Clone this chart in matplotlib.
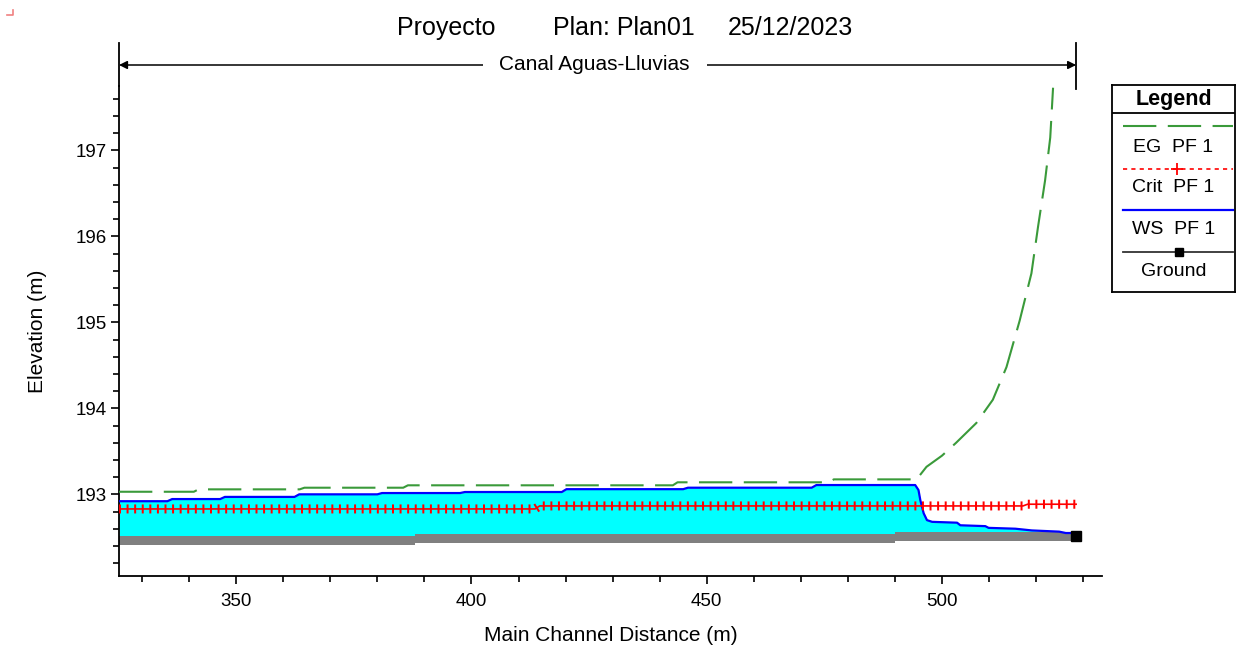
import matplotlib.pyplot as plt
import numpy as np
from matplotlib.ticker import MultipleLocator
import matplotlib.transforms as mtransforms

plt.rcParams['font.family'] = ['Liberation Sans', 'DejaVu Sans']

# HEC-RAS profile (station in m, elevation in m)
ground_x = [325.1, 388.0, 388.0, 490.0, 490.0, 528.5]
ground_z = [192.46, 192.46, 192.485, 192.485, 192.51, 192.51]

ws_x = [325.1, 335.4, 336.4, 346.6, 347.6, 362.4, 363.4, 380.0, 381.0, 397.6,
        398.6, 419.2, 420.2, 445.0, 446.0, 472.3, 473.3, 494.3, 495.0, 495.4,
        496.1, 496.8, 497.9, 503.2, 503.9, 509.2, 509.9, 515.6, 519.1, 524.9,
        526.3, 528.5]
ws_z = [192.92, 192.92, 192.945, 192.945, 192.97, 192.97, 193.0, 193.0, 193.015, 193.015,
        193.027, 193.027, 193.06, 193.06, 193.077, 193.077, 193.108, 193.108, 193.05, 192.93,
        192.78, 192.70, 192.68, 192.67, 192.64, 192.63, 192.61, 192.60, 192.58, 192.566,
        192.55, 192.55]

crit_x = [325.1, 413.5, 414.5, 517.2, 518.2, 528.5]
crit_z = [192.83, 192.83, 192.865, 192.865, 192.885, 192.885]

eg_x = [325.1, 341.0, 342.0, 363.5, 364.5, 385.5, 386.5, 442.8, 443.8, 476.0,
        477.0, 494.6, 496.7, 500.0, 503.0, 507.3, 510.8, 513.7, 516.5, 519.0,
        520.4, 521.9, 523.0, 523.6]
eg_z = [193.03, 193.03, 193.058, 193.058, 193.077, 193.077, 193.105, 193.105, 193.14, 193.14,
        193.174, 193.174, 193.32, 193.45, 193.60, 193.83, 194.10, 194.48, 195.02, 195.57,
        196.11, 196.65, 197.15, 197.73]

reach_name = 'Canal Aguas-Lluvias'
title_parts = ['Proyecto', 'Plan: Plan01', '25/12/2023']
legend_labels = ['EG  PF 1', 'Crit  PF 1', 'WS  PF 1', 'Ground']

W, H = 1243, 649
fig = plt.figure(figsize=(W/100, H/100), dpi=100)

def rect(x0, y0, x1, y1):
    return [x0/W, 1 - y1/H, (x1 - x0)/W, (y1 - y0)/H]

ax = fig.add_axes(rect(119, 86, 1102, 576))
ax.set_xlim(325.1, 534.0)
ax.set_ylim(192.05, 197.75)

# water fill down to the ground, then ground band on top
gz_at_ws = np.interp(ws_x, [325.1, 388.0, 490.0, 528.5], [192.46, 192.485, 192.51, 192.51])
ax.fill_between(ws_x, gz_at_ws, ws_z, color='#00ffff', lw=0, zorder=1)
ax.fill_between(ground_x, np.array(ground_z) - 0.055, np.array(ground_z) + 0.055,
                color='#808080', lw=0, zorder=2)
ax.plot(ground_x[-1:], ground_z[-1:], 's', color='black', ms=7, zorder=6)

ax.plot(ws_x, ws_z, color='#0000ff', lw=1.6, zorder=3)
# crit line plus its row of small cross ticks (done as a thick, sparse dash)
ax.plot(crit_x, crit_z, color='#ff0000', lw=1.2, zorder=4)
ax.plot(crit_x, crit_z, color='#ff0000', lw=6.5, dashes=(0.22, 0.62),
        dash_capstyle='butt', zorder=4)
ax.plot(eg_x, eg_z, color='#3a9a3a', lw=1.5, dashes=(16, 5.5), zorder=5)

for s in ['top', 'right']:
    ax.spines[s].set_visible(False)
for s in ['left', 'bottom']:
    ax.spines[s].set_linewidth(1.3)
ax.xaxis.set_major_locator(MultipleLocator(50))
ax.xaxis.set_minor_locator(MultipleLocator(10))
ax.yaxis.set_major_locator(MultipleLocator(1))
ax.yaxis.set_minor_locator(MultipleLocator(0.2))
ax.tick_params(which='major', direction='out', length=6, width=1.2, labelsize=13.5)
ax.tick_params(axis='x', which='major', pad=6)
ax.tick_params(axis='y', which='major', pad=3)
ax.tick_params(which='minor', direction='out', length=4, width=1.2)
ax.set_xlabel('Main Channel Distance (m)', fontsize=15, labelpad=12)
ax.set_ylabel('Elevation (m)', fontsize=15, labelpad=20)

# reach bracket above the plot
trans = mtransforms.blended_transform_factory(ax.transData, ax.transAxes)
top = (576 - 43) / 490
yb = (576 - 65) / 490
ax.plot([325.1, 325.1], [1.0, top], color='black', lw=1.3, transform=trans, clip_on=False)
ax.plot([ground_x[-1], ground_x[-1]], [1.0 - 3/490, top], color='black', lw=1.3,
        transform=trans, clip_on=False)
ax.annotate('', xy=(325.1, yb), xytext=(ground_x[-1], yb), xycoords=trans, textcoords=trans,
            arrowprops=dict(arrowstyle='<|-|>', color='black', lw=1.1, mutation_scale=12,
                            shrinkA=0, shrinkB=0))
ax.text(426.2, yb, reach_name, transform=trans, ha='center', va='center', fontsize=15,
        bbox=dict(facecolor='white', edgecolor='none', pad=12))

# title
for x0, s in zip([397, 553, 728], title_parts):
    fig.text(x0/W, 1 - 28/H, s, ha='left', va='center', fontsize=18)

# corner mark
fig.add_artist(plt.Line2D([7/W, 13/W, 13/W], [1 - 15/H, 1 - 15/H, 1 - 10/H],
                          color='#f08080', lw=1.2))

# legend panel
lax = fig.add_axes(rect(1112, 85, 1235, 292))
lax.set_xlim(1112, 1235)
lax.set_ylim(292, 85)
lax.set_xticks([])
lax.set_yticks([])
for s in lax.spines.values():
    s.set_linewidth(1.3)
lax.axhline(113, color='black', lw=1.3)
lax.text(1173.5, 99, 'Legend', ha='center', va='center', fontsize=15.5, fontweight='bold')
lax.plot([1123, 1233], [126, 126], color='#3a9a3a', lw=1.5, dashes=(16, 5.5))
lax.plot([1123, 1233], [169, 169], color='#ff0000', lw=1.2, dashes=(2.5, 2.5))
lax.plot([1177], [169], '+', color='#ff0000', ms=8, mew=1.3)
lax.plot([1123, 1233], [210, 210], color='#0000ff', lw=1.6)
lax.plot([1123, 1233], [252, 252], color='#333333', lw=1.3)
lax.plot([1179], [252], 's', color='black', ms=6)
for yy, lab in zip([148, 188, 230, 272], legend_labels):
    lax.text(1173.5, yy, lab, ha='center', va='center', fontsize=14)

fig.savefig('out.png', dpi=100)
